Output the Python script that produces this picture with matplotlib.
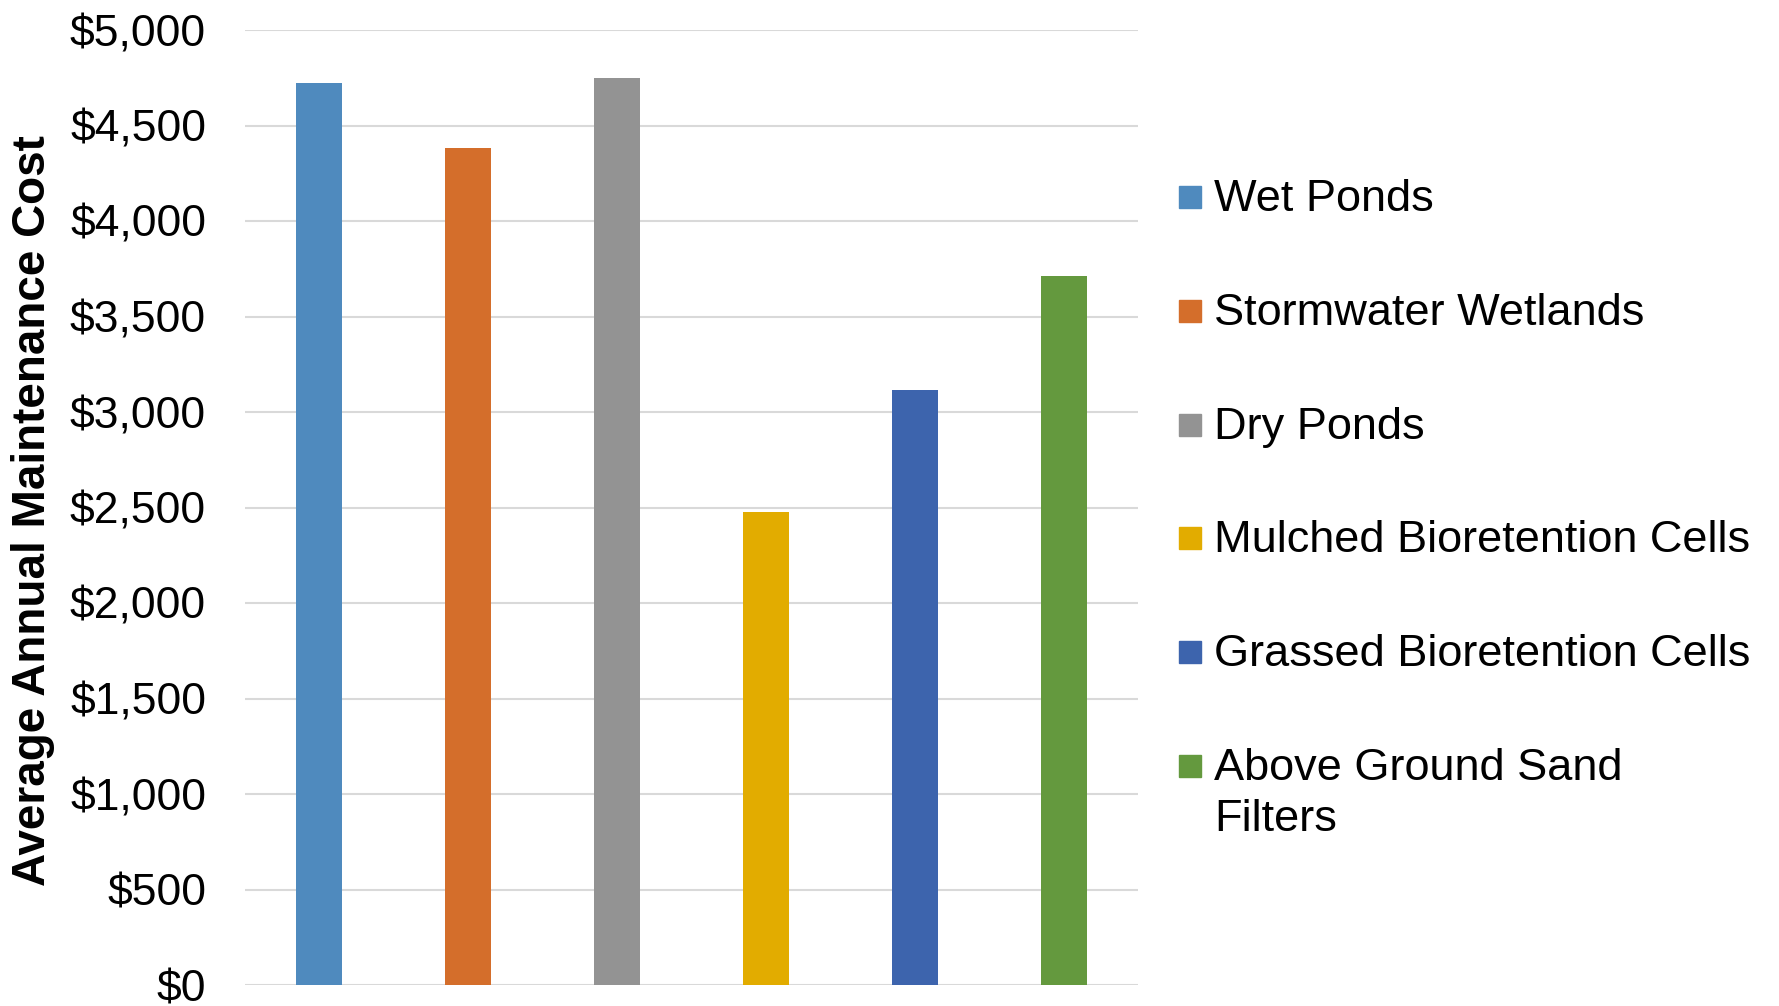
import matplotlib
matplotlib.use("Agg")
import matplotlib.pyplot as plt
from matplotlib.patches import Rectangle
from matplotlib.ticker import FuncFormatter

# data
categories = ["Wet Ponds", "Stormwater Wetlands", "Dry Ponds",
              "Mulched Bioretention Cells", "Grassed Bioretention Cells",
              "Above Ground Sand\nFilters"]
costs = [4720, 4380, 4750, 2475, 3115, 3710]
colors = ["#4F8ABE", "#D46E2B", "#939393", "#E2AC00", "#3D64AD", "#64993E"]
yticks = [0, 500, 1000, 1500, 2000, 2500, 3000, 3500, 4000, 4500, 5000]

plt.rcParams["font.family"] = ["Liberation Sans", "DejaVu Sans"]

W, H = 1779, 1006
fig = plt.figure(figsize=(W / 100, H / 100), dpi=100)
ax = fig.add_axes([245 / W, 1 - 985 / H, (1138 - 245) / W, (985 - 30) / H])

x = list(range(len(categories)))
ax.bar(x, costs, width=0.31, color=colors, zorder=3)

ax.set_xlim(-0.5, len(categories) - 0.5)
ax.set_ylim(0, 5000)
ax.set_yticks(yticks)
ax.yaxis.set_major_formatter(FuncFormatter(lambda v, p: "${:,.0f}".format(v)))
ax.tick_params(axis="y", length=0, pad=28, labelsize=32)
ax.set_xticks([])
ax.grid(axis="y", color="#d9d9d9", linewidth=1.5, zorder=0)
for s in ax.spines.values():
    s.set_visible(False)

# y label
fig.text(33 / W, 1 - 511 / H, "Average Annual Maintenance Cost", fontsize=33,
         fontweight="bold", rotation=90, ha="center", va="center")

# legend drawn by hand so the wrapped label lines up like the original
for i, (name, c) in enumerate(zip(categories, colors)):
    yc = 197 + 113.8 * i
    fig.patches.append(Rectangle((1179 / W, 1 - (yc + 11) / H), 22 / W, 22 / H,
                                 transform=fig.transFigure, color=c))
    fig.text(1214 / W, 1 - (yc - 18) / H, name, fontsize=32.5, va="top",
             ha="left", linespacing=1.3)

fig.savefig("out.png", dpi=100)
